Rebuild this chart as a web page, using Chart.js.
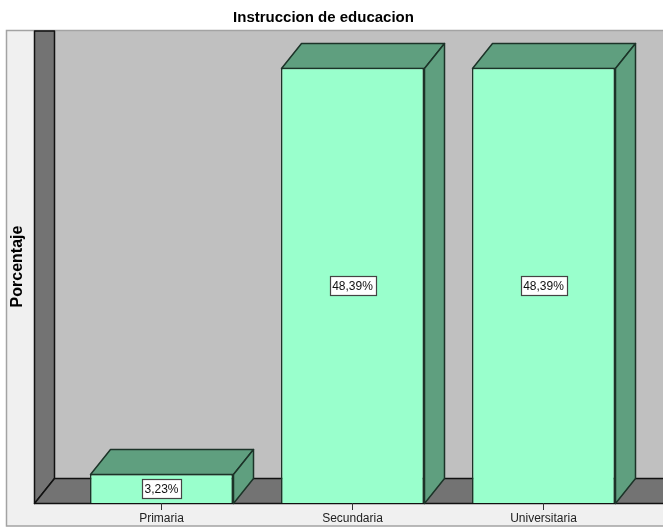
<!DOCTYPE html>
<html><head><meta charset="utf-8">
<style>html,body{margin:0;padding:0;background:#fff}#w{width:663px;height:527px;position:relative}</style>
<script src="https://cdn.jsdelivr.net/npm/chart.js@4"></script></head>
<body><div id="w"><canvas id="c"></canvas></div>
<script>
const categories = ["Primaria", "Secundaria", "Universitaria"];
const percentages = [3.23, 48.39, 48.39];
const titleText = "Instruccion de educacion";
const yTitle = "Porcentaje";

const FONT = '"Liberation Sans", Arial, sans-serif';
const depthX = 20, depthY = 25;
const LINE = '#1c3328';

function poly(ctx, pts, fill, stroke) {
  ctx.beginPath();
  pts.forEach((p, i) => i ? ctx.lineTo(p[0], p[1]) : ctx.moveTo(p[0], p[1]));
  ctx.closePath();
  if (fill) { ctx.fillStyle = fill; ctx.fill(); }
  if (stroke) { ctx.strokeStyle = stroke; ctx.lineWidth = 1.5; ctx.lineJoin = 'round'; ctx.stroke(); }
}

const scene = {
  id: 'scene',
  beforeDraw(chart) {
    const { ctx, chartArea: a, width, height } = chart;
    const wallL = a.left - 32, top = a.top, bot = a.bottom;
    ctx.save();
    // panel
    ctx.fillStyle = '#f0f0f0';
    ctx.fillRect(6.5, top + .5, width, height - top - 1.5);
    // back wall
    ctx.fillStyle = '#c0c0c0';
    ctx.fillRect(wallL, top, width - wallL, bot - top);
    ctx.strokeStyle = '#a3a3a3'; ctx.lineWidth = 1.5;
    ctx.strokeRect(6.5, top + .5, width, height - top - 1.5);
    // left wall and floor
    poly(ctx, [[wallL + .5, top + 1], [wallL + depthX + .5, top + 1], [wallL + depthX + .5, bot - depthY + .5], [wallL + .5, bot + .5]], '#737373', '#111');
    poly(ctx, [[wallL + .5, bot + .5], [wallL + depthX + .5, bot - depthY + .5], [width + 2, bot - depthY + .5], [width + 2, bot + .5]], '#737373', '#111');
    ctx.restore();
  },
  beforeDatasetsDraw(chart) {
    const ctx = chart.ctx;
    ctx.save();
    chart.getDatasetMeta(0).data.forEach(b => {
      const l = Math.round(b.x - b.width / 2) + .5, r = Math.round(b.x + b.width / 2) + .5;
      const t = Math.round(b.y) + .5, u = Math.round(b.base) + .5;
      poly(ctx, [[l, t], [l + depthX, t - depthY], [r + depthX, t - depthY], [r, t]], '#5f9f7f', LINE);
      poly(ctx, [[r, t], [r + depthX, t - depthY], [r + depthX, u - depthY], [r, u]], '#5f9f7f', LINE);
    });
    ctx.restore();
  },
  afterDatasetsDraw(chart) {
    const ctx = chart.ctx;
    ctx.save();
    ctx.font = '12px ' + FONT;
    ctx.textAlign = 'center';
    ctx.textBaseline = 'middle';
    chart.getDatasetMeta(0).data.forEach((b, i) => {
      const txt = percentages[i].toFixed(2).replace('.', ',') + '%';
      const w = Math.round(ctx.measureText(txt).width) + 5, h = 19;
      const x = Math.round(b.x - w / 2) + .5, y = Math.round((b.y + b.base) / 2 - h / 2) + .5;
      ctx.fillStyle = '#fff';
      ctx.fillRect(x, y, w, h);
      ctx.strokeStyle = '#444'; ctx.lineWidth = 1.2;
      ctx.strokeRect(x, y, w, h);
      ctx.fillStyle = '#111';
      ctx.fillText(txt, b.x, y + h / 2 + .5);
    });
    ctx.restore();
  }
};

new Chart(document.getElementById('c'), {
  type: 'bar',
  data: {
    labels: categories,
    datasets: [{
      data: percentages,
      backgroundColor: '#99ffcc',
      borderColor: LINE,
      borderWidth: 1.5,
      barPercentage: 0.749,
      categoryPercentage: 1
    }]
  },
  plugins: [scene],
  options: {
    responsive: true,
    maintainAspectRatio: false,
    animation: false,
    layout: { padding: { left: 8, right: 24, top: 0, bottom: 1 } },
    plugins: {
      legend: { display: false },
      tooltip: { enabled: false },
      title: {
        display: true, text: titleText, color: '#000',
        font: { family: FONT, size: 15, weight: 'bold', lineHeight: 1.2 },
        padding: { top: 9, bottom: 3 }
      }
    },
    scales: {
      x: {
        afterFit(s) { s.height = 23; },
        border: { display: false },
        grid: { offset: false, drawOnChartArea: false, tickLength: 7, color: '#333' },
        ticks: { color: '#222', padding: 1, maxRotation: 0, font: { family: FONT, size: 12 } }
      },
      y: {
        min: 0, max: 52.6,
        afterFit(s) { s.width = 58; },
        border: { display: false },
        grid: { display: false },
        ticks: { display: false },
        title: {
          display: true, text: yTitle, color: '#000',
          font: { family: FONT, size: 16, weight: 'bold' },
          padding: { top: 0, bottom: 0 }
        }
      }
    }
  }
});
</script></body></html>
